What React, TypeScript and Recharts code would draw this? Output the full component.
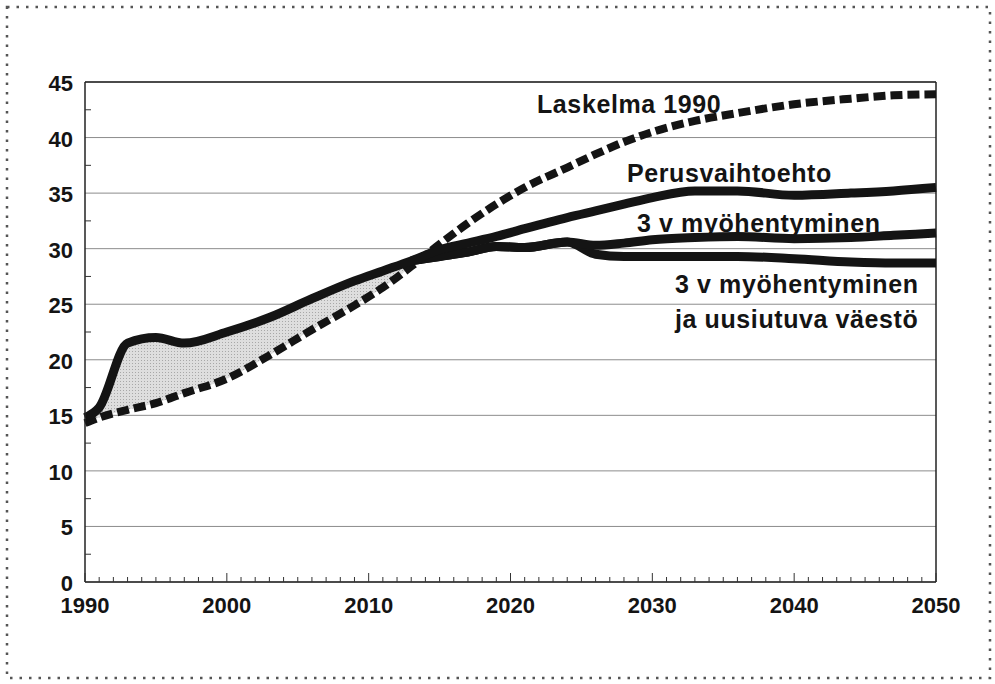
import React from "react";
import {
  ComposedChart,
  Line,
  Area,
  XAxis,
  YAxis,
  CartesianGrid,
  ReferenceLine,
} from "recharts";

const years = [
  1990, 1991, 1993, 1995, 1997, 2000, 2003, 2006, 2009, 2011, 2013, 2015, 2017,
  2019, 2021, 2024, 2026, 2028, 2030, 2033, 2036, 2040, 2044, 2047, 2050,
];

// Laskelma 1990 (dashed)
const laskelma = [
  14.3, 14.8, 15.5, 16.1, 17.0, 18.3, 20.4, 22.7, 24.9, 26.5, 28.4, 30.4, 32.3,
  34.0, 35.5, 37.3, 38.5, 39.6, 40.5, 41.5, 42.2, 43.0, 43.5, 43.8, 43.9,
];

// Perusvaihtoehto, incl. the common history part
const perus = [
  14.8, 15.7, 21.5, 22.0, 21.5, 22.5, 23.8, 25.5, 27.1, 28.0, 28.9, 29.9, 30.5,
  31.1, 31.8, 32.8, 33.4, 34.0, 34.6, 35.2, 35.2, 34.8, 35.0, 35.2, 35.5,
];

const myohentyminen = [
  null, null, null, null, null, null, null, null, null, null, 28.9, 29.3, 29.7,
  30.2, 30.1, 30.6, 30.3, 30.5, 30.8, 31.0, 31.1, 30.9, 31.0, 31.2, 31.4,
];

const uusiutuva = [
  null, null, null, null, null, null, null, null, null, null, 28.9, 29.3, 29.7,
  30.2, 30.1, 30.6, 29.5, 29.3, 29.3, 29.3, 29.3, 29.1, 28.8, 28.7, 28.7,
];

const lamaEnd = 2013;

const yTicks = [0, 5, 10, 15, 20, 25, 30, 35, 40, 45];
const xTickLabels = [1990, 2000, 2010, 2020, 2030, 2040, 2050];

const yMinor = Array.from({ length: 19 }, (_, i) => i * 2.5);
const xMinor = Array.from({ length: 61 }, (_, i) => 1990 + i);

const data = years.map((year, i) => ({
  year,
  laskelma: laskelma[i],
  perus: perus[i],
  myoh: myohentyminen[i],
  uusi: uusiutuva[i],
  lama: year <= lamaEnd ? [laskelma[i], perus[i]] : null,
}));

const FONT = "'Liberation Sans', Arial, Helvetica, sans-serif";
const INK = "#141414";

const XTick = (props: any) => {
  const { x, y, payload } = props;
  const v = payload.value;
  const major = v % 10 === 0;
  return (
    <g>
      <line x1={x} x2={x} y1={y} y2={y - (major ? 9 : 5)} stroke="#333" strokeWidth={1} />
      {xTickLabels.includes(v) && (
        <text x={x} y={y + 31} textAnchor="middle" fontSize={22} fontWeight="bold" fontFamily={FONT} fill={INK}>
          {v}
        </text>
      )}
    </g>
  );
};

const YTick = (props: any) => {
  const { x, y, payload } = props;
  const v = payload.value;
  return (
    <g>
      {!yTicks.includes(v) && (
        <line x1={x + 12} x2={x + 18} y1={y} y2={y} stroke="#333" strokeWidth={1} />
      )}
      {yTicks.includes(v) && (
        <text x={x} y={y + 9} textAnchor="end" fontSize={22} fontWeight="bold" fontFamily={FONT} fill={INK}>
          {v}
        </text>
      )}
    </g>
  );
};

const labelStyle = {
  fontSize: 25,
  fontWeight: "bold" as const,
  fontFamily: FONT,
  fill: INK,
  letterSpacing: 0.6,
};

export default function App() {
  return (
    <div style={{ position: "absolute", left: 0, top: 0, width: 995, height: 684, background: "#fff" }}>
      <ComposedChart
        width={995}
        height={684}
        data={data}
        margin={{ top: 82, right: 59, left: 5, bottom: 62 }}
      >
        <defs>
          <pattern id="stipple" width="3" height="3" patternUnits="userSpaceOnUse">
            <rect width="3" height="3" fill="#dedede" />
            <rect width="1" height="1" fill="#a8a8a8" />
          </pattern>
        </defs>
        <rect x={7} y={7} width={983} height={671} fill="none" stroke="#555" strokeWidth={2.5} strokeDasharray="2.5 7" />
        <CartesianGrid horizontal vertical={false} horizontalValues={yTicks} stroke="#8c8c8c" strokeWidth={1} />
        <XAxis
          dataKey="year"
          type="number"
          domain={[1990, 2050]}
          ticks={xMinor}
          interval={0}
          tickSize={0}
          tickMargin={0}
          height={40}
          axisLine={{ stroke: "#222", strokeWidth: 1.5 }}
          tick={<XTick />}
        />
        <YAxis
          type="number"
          domain={[0, 45]}
          ticks={yMinor}
          interval={0}
          tickSize={0}
          tickMargin={12}
          width={80}
          axisLine={{ stroke: "#222", strokeWidth: 1.5 }}
          tick={<YTick />}
        />
        <ReferenceLine y={45} stroke="#222" strokeWidth={1.5} />
        <ReferenceLine x={2050} stroke="#222" strokeWidth={1.5} />
        <Area
          dataKey="lama"
          type="monotone"
          fill="url(#stipple)"
          fillOpacity={1}
          stroke="none"
          isAnimationActive={false}
          activeDot={false}
        />
        <Line
          dataKey="laskelma"
          type="monotone"
          stroke={INK}
          strokeWidth={8}
          strokeDasharray="12 5"
          dot={false}
          activeDot={false}
          isAnimationActive={false}
        />
        <Line dataKey="uusi" type="monotone" stroke={INK} strokeWidth={9} dot={false} activeDot={false} isAnimationActive={false} />
        <Line dataKey="myoh" type="monotone" stroke={INK} strokeWidth={9} dot={false} activeDot={false} isAnimationActive={false} />
        <Line dataKey="perus" type="monotone" stroke={INK} strokeWidth={9} dot={false} activeDot={false} isAnimationActive={false} />
        <g>
          <rect x={130} y={361} width={68} height={26} fill="#fff" />
          <text x={133} y={382} fontSize={24} fontWeight="bold" fontFamily={FONT} fill={INK}>
            Lama
          </text>
          <text x={537} y={113} {...labelStyle}>Laskelma 1990</text>
          <text x={627} y={182} {...labelStyle}>Perusvaihtoehto</text>
          <text x={637} y={232} {...labelStyle}>3 v myöhentyminen</text>
          <text x={675} y={293} {...labelStyle}>3 v myöhentyminen</text>
          <text x={675} y={328} {...labelStyle}>ja uusiutuva väestö</text>
        </g>
      </ComposedChart>
    </div>
  );
}
